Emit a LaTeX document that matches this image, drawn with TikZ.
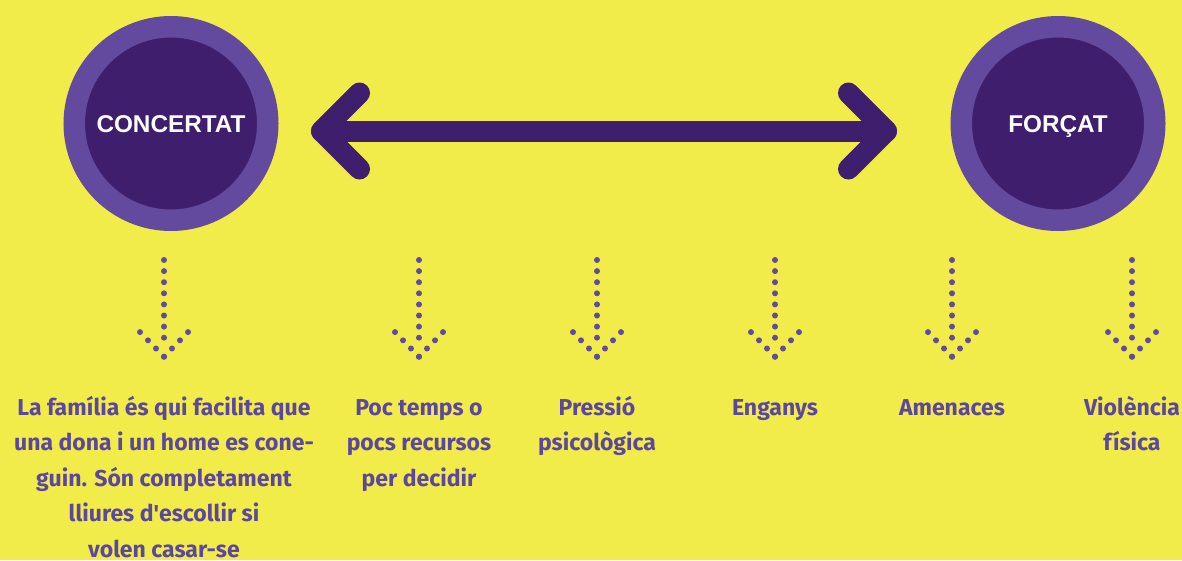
\documentclass[tikz,border=0pt]{standalone}
\usepackage{fontspec}
\setmainfont{Liberation Sans}
\newfontfamily\lblfont{Fira Sans}
\definecolor{bgyellow}{HTML}{F2EC4B}
\definecolor{ringpurple}{HTML}{634A9E}
\definecolor{darkpurple}{HTML}{3E1E6D}
\definecolor{lblpurple}{HTML}{5B46A0}
\tikzset{
  pole/.style={circle, fill=darkpurple, draw=ringpurple, line width=21.5pt,
    minimum size=193.5pt, inner sep=0pt, text=white, text height=17pt, text depth=0pt,
    font=\bfseries\fontsize{24.3}{28}\selectfont},
  bigarrow/.style={draw=darkpurple, line width=21pt, line cap=round, line join=round},
  dotc/.style={fill=ringpurple},
  lbl/.style={anchor=north, inner sep=0pt, align=center, text=lblpurple,
    font=\lblfont\bfseries\fontsize{23}{35.5}\selectfont}
}
\begin{document}
\begin{tikzpicture}[x=1pt,y=-1pt]
  \path[use as bounding box, fill=bgyellow] (0,0) rectangle (1182,560);
  % the two ends of the scale
  \node[pole] (concertat) at (171,123.5) {CONCERTAT};
  \node[pole] (forcat) at (1058,123.5) {FORÇAT};
  \coordinate (lefttip) at (321.5,131);
  \coordinate (righttip) at (886.5,131);
  \draw[bigarrow] (lefttip) -- (righttip);
  \draw[bigarrow] ([shift={(38,-38)}]lefttip) -- (lefttip) -- ([shift={(38,38)}]lefttip);
  \draw[bigarrow] ([shift={(-38,-38)}]righttip) -- (righttip) -- ([shift={(-38,38)}]righttip);
  % dotted arrows and labels
  \foreach \name/\xpos/\txt in {
      familia/164/{La família és qui facilita que\\una dona i un home es cone-\\guin. Són completament\\lliures d\textquotesingle escollir si\\volen casar-se},
      temps/419/{Poc temps o\\pocs recursos\\per decidir},
      pressio/597/{Pressió\\psicològica},
      enganys/775/{Enganys},
      amenaces/952/{Amenaces},
      violencia/1132/{Violència\\física}}
  {
    \coordinate (\name top) at (\xpos,260);
    \begin{scope}[shift={(\name top)}]
      \foreach \k in {0,...,7}
        \fill[dotc] (0,\k*11.1) circle[radius=3pt];
      \foreach \j in {0,...,3} {
        \fill[dotc] (-\j*8,96.7-\j*8.2) circle[radius=3pt];
        \fill[dotc] (\j*8,96.7-\j*8.2) circle[radius=3pt];
      }
    \end{scope}
    \node[lbl] (\name) at (\xpos,390) {\strut\txt};
  }
\end{tikzpicture}
\end{document}
